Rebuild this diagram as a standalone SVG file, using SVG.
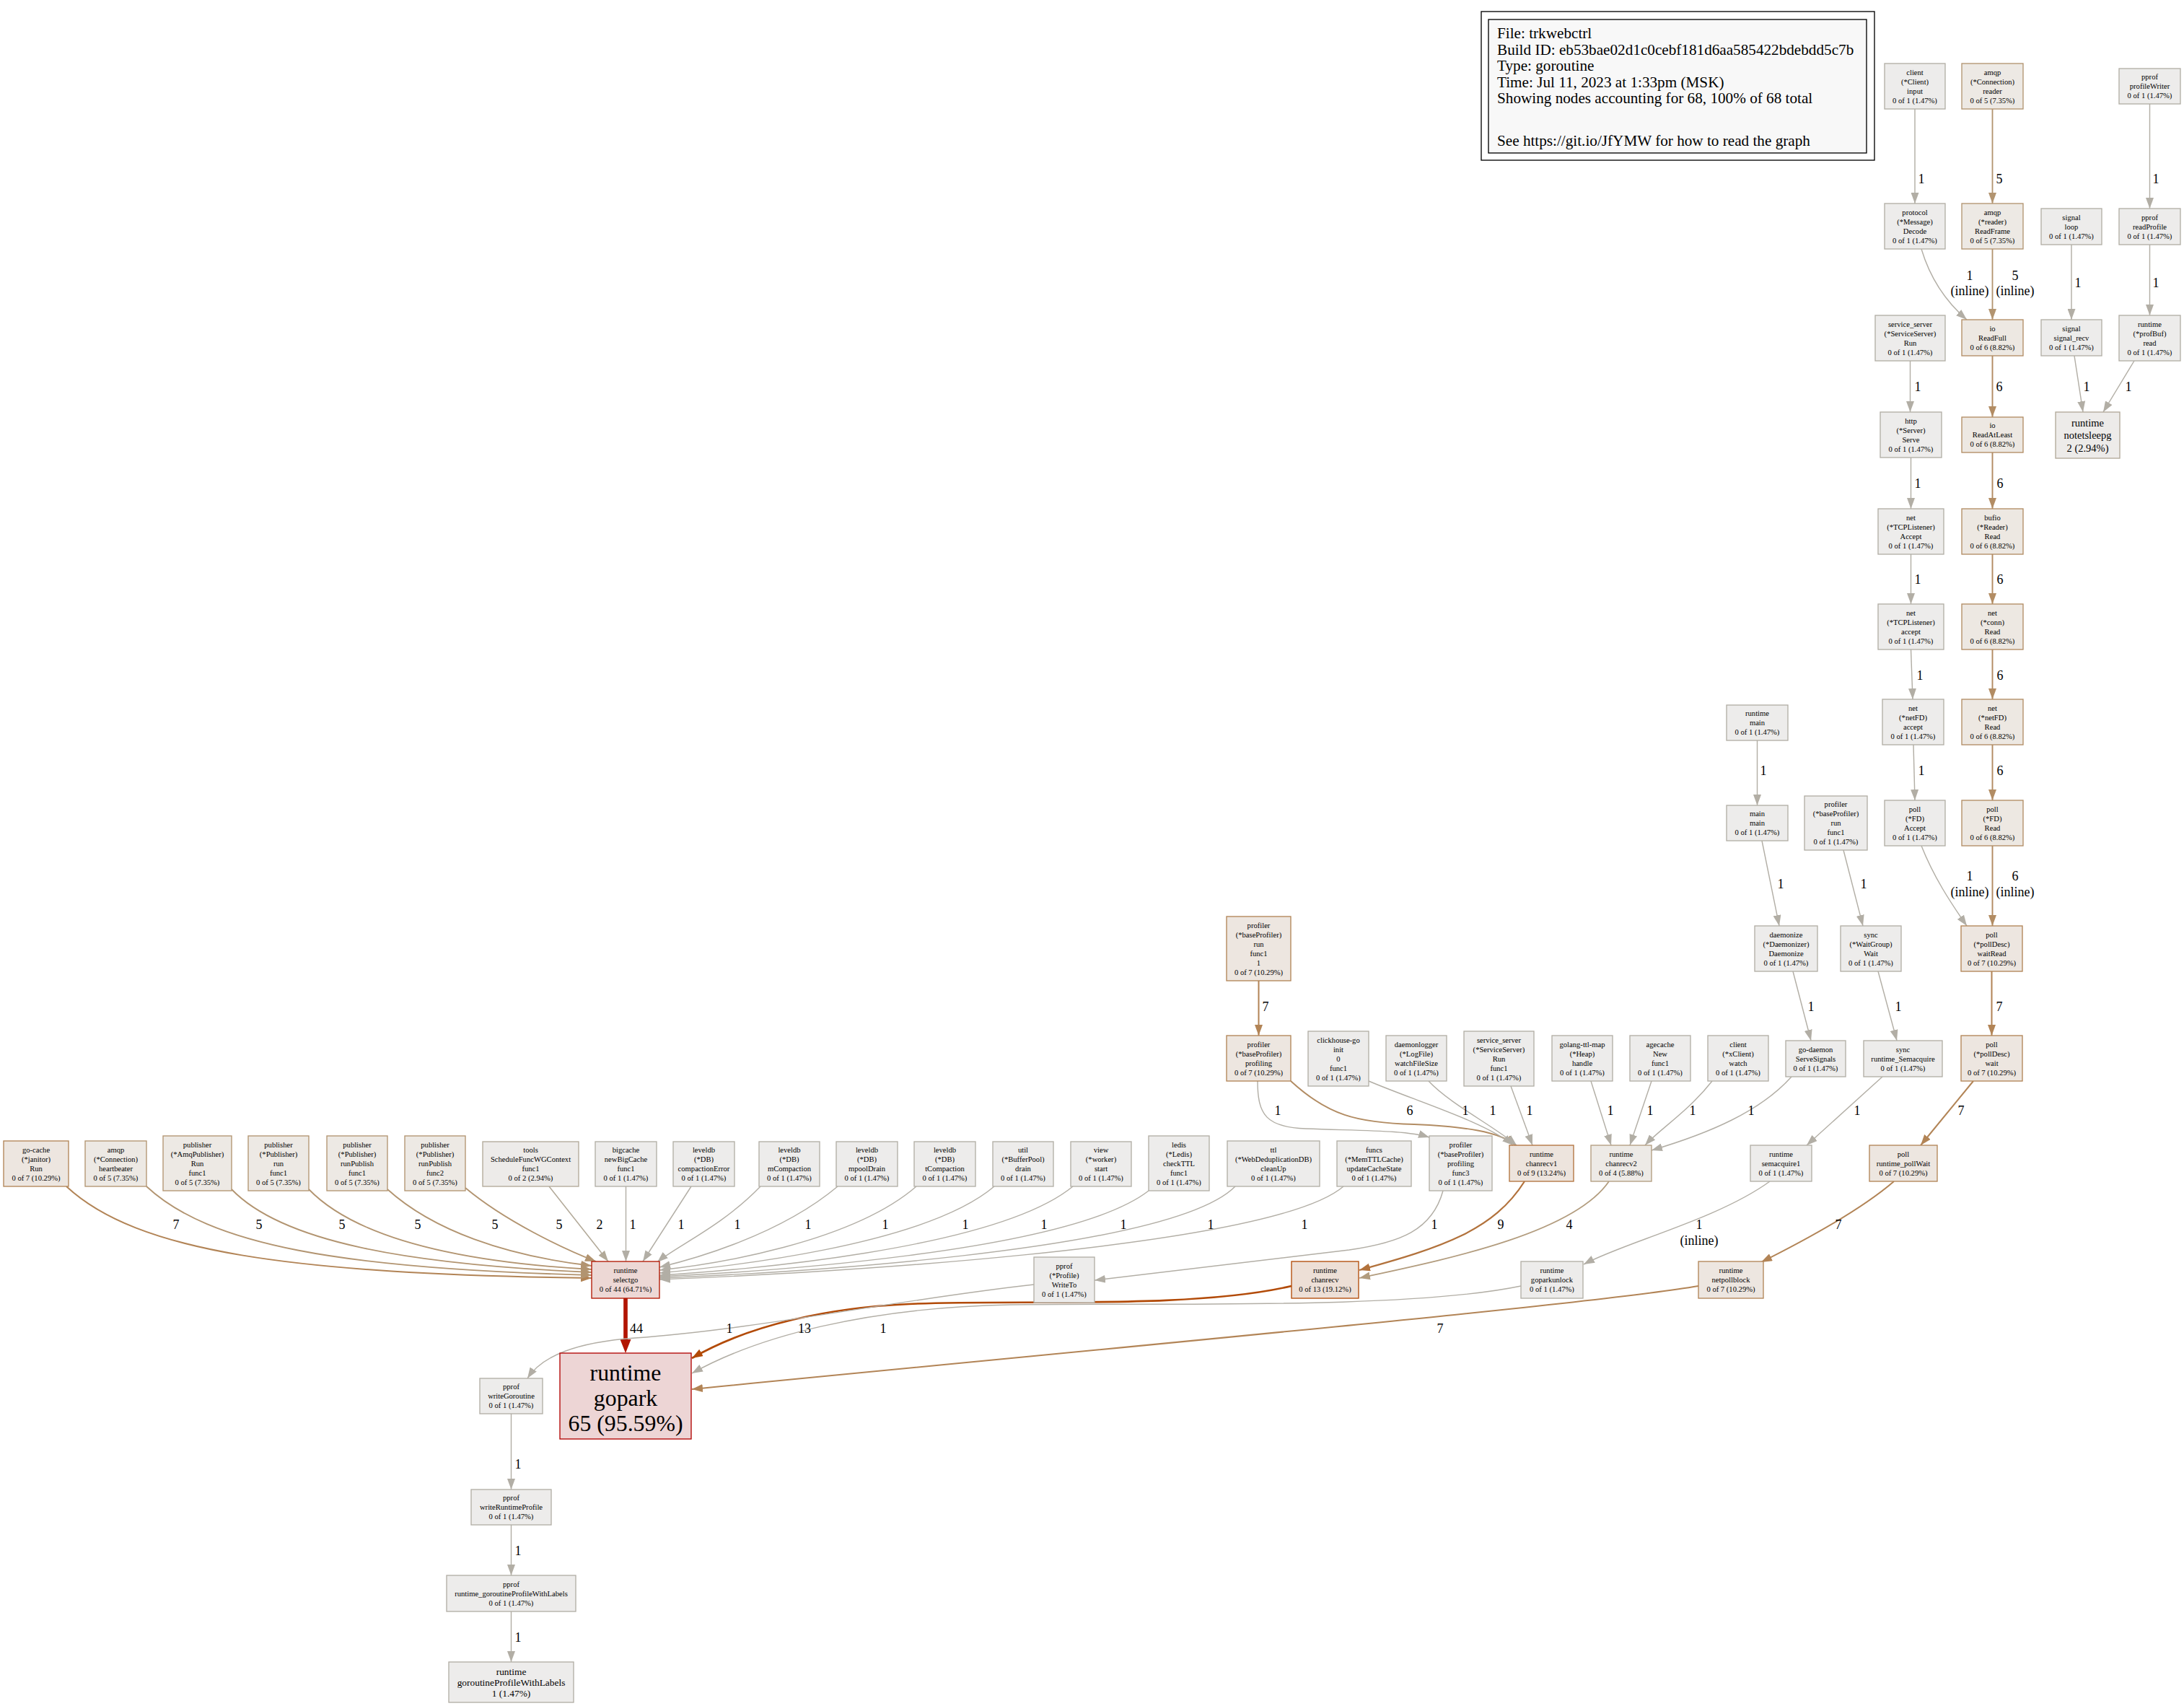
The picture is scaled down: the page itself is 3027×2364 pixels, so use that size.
<svg xmlns="http://www.w3.org/2000/svg" width="3027" height="2364" viewBox="0 0 3027 2364">
<style>
.n rect{stroke-width:1.33}
.n text{font-family:"Liberation Serif","Times New Roman",serif;font-size:10.6px;text-anchor:middle;fill:#000}
.w1 rect{fill:#edeceb;stroke:#b2aea5}
.w2 rect{fill:#edebe9;stroke:#b2a998}
.w4 rect{fill:#edeae6;stroke:#b29c7e}
.w5 rect{fill:#ede9e4;stroke:#b29470}
.w6 rect{fill:#ede8e2;stroke:#b28c63}
.w7 rect{fill:#ede6e0;stroke:#b28456}
.w9 rect{fill:#ede4dd;stroke:#b2723c}
.w13 rect{fill:#eddfd6;stroke:#b24a07}
.w44 rect{fill:#edd8d5;stroke:#b21500}
.w65 rect{fill:#edd5d5;stroke:#b20200}
#edges path{fill:none}
.c1{stroke:#b2aea5;stroke-width:1.43;marker-end:url(#a1)}
.c2{stroke:#b2a998;stroke-width:1.53;marker-end:url(#a2)}
.c4{stroke:#b29c7e;stroke-width:1.72;marker-end:url(#a4)}
.c5{stroke:#b29470;stroke-width:1.82;marker-end:url(#a5)}
.c6{stroke:#b28c63;stroke-width:1.92;marker-end:url(#a6)}
.c7{stroke:#b28456;stroke-width:2.02;marker-end:url(#a7)}
.c9{stroke:#b2723c;stroke-width:2.21;marker-end:url(#a9)}
.c13{stroke:#b24a07;stroke-width:2.61;marker-end:url(#a13)}
.c44{stroke:#b21500;stroke-width:5.65;marker-end:url(#a44)}
.l{font-family:"Liberation Serif","Times New Roman",serif;font-size:18px;text-anchor:middle;fill:#000}
.lg{font-family:"Liberation Serif","Times New Roman",serif;font-size:21.2px;fill:#000}
</style>
<defs>
<marker id="a1" markerUnits="userSpaceOnUse" markerWidth="15" markerHeight="11" viewBox="0 0 15 11" refX="15" refY="5.5" orient="auto"><path d="M0,0L15,5.5L0,11z" fill="#b2aea5"/></marker>
<marker id="a2" markerUnits="userSpaceOnUse" markerWidth="15" markerHeight="11" viewBox="0 0 15 11" refX="15" refY="5.5" orient="auto"><path d="M0,0L15,5.5L0,11z" fill="#b2a998"/></marker>
<marker id="a4" markerUnits="userSpaceOnUse" markerWidth="15" markerHeight="11" viewBox="0 0 15 11" refX="15" refY="5.5" orient="auto"><path d="M0,0L15,5.5L0,11z" fill="#b29c7e"/></marker>
<marker id="a5" markerUnits="userSpaceOnUse" markerWidth="15" markerHeight="11" viewBox="0 0 15 11" refX="15" refY="5.5" orient="auto"><path d="M0,0L15,5.5L0,11z" fill="#b29470"/></marker>
<marker id="a6" markerUnits="userSpaceOnUse" markerWidth="15" markerHeight="11" viewBox="0 0 15 11" refX="15" refY="5.5" orient="auto"><path d="M0,0L15,5.5L0,11z" fill="#b28c63"/></marker>
<marker id="a7" markerUnits="userSpaceOnUse" markerWidth="15" markerHeight="11" viewBox="0 0 15 11" refX="15" refY="5.5" orient="auto"><path d="M0,0L15,5.5L0,11z" fill="#b28456"/></marker>
<marker id="a9" markerUnits="userSpaceOnUse" markerWidth="15" markerHeight="11" viewBox="0 0 15 11" refX="15" refY="5.5" orient="auto"><path d="M0,0L15,5.5L0,11z" fill="#b2723c"/></marker>
<marker id="a13" markerUnits="userSpaceOnUse" markerWidth="15" markerHeight="11" viewBox="0 0 15 11" refX="15" refY="5.5" orient="auto"><path d="M0,0L15,5.5L0,11z" fill="#b24a07"/></marker>
<marker id="a44" markerUnits="userSpaceOnUse" markerWidth="19" markerHeight="15" viewBox="0 0 19 15" refX="0" refY="7.5" orient="auto"><path d="M0,0L19,7.5L0,15z" fill="#b21500"/></marker>
</defs>
<rect x="0" y="0" width="3027" height="2364" fill="#fff"/>

<g id="legend">
<rect x="2053" y="16" width="545" height="206" fill="#fff" stroke="#000" stroke-width="1.33"/>
<rect x="2063" y="27" width="524" height="185" fill="#f8f8f8" stroke="#000" stroke-width="1.33"/>
<text class="lg" x="2075" y="53.2">File: trkwebctrl</text>
<text class="lg" x="2075" y="75.7">Build ID: eb53bae02d1c0cebf181d6aa585422bdebdd5c7b</text>
<text class="lg" x="2075" y="98.2">Type: goroutine</text>
<text class="lg" x="2075" y="120.7">Time: Jul 11, 2023 at 1:33pm (MSK)</text>
<text class="lg" x="2075" y="143.2">Showing nodes accounting for 68, 100% of 68 total</text>
<text class="lg" x="2075" y="201.5">See https://git.io/JfYMW for how to read the graph</text>
</g>

<g id="edges">
<path class="c1" d="M2654,151L2654,282"/>
<path class="c5" d="M2761.5,151L2761.5,282"/>
<path class="c1" d="M2979.5,144L2979.5,289"/>
<path class="c1" d="M2663,345C2675,385 2697,418 2726,443"/>
<path class="c5" d="M2761.5,345L2761.5,443"/>
<path class="c1" d="M2871,339L2871,443"/>
<path class="c1" d="M2979.5,339L2979.5,437"/>
<path class="c1" d="M2647.5,500L2647.5,571"/>
<path class="c6" d="M2761.5,493L2761.5,578"/>
<path class="c1" d="M2875,493L2887,571"/>
<path class="c1" d="M2958,500L2915,571"/>
<path class="c1" d="M2648.5,634L2648.5,705"/>
<path class="c6" d="M2761.5,627L2761.5,705"/>
<path class="c1" d="M2648.5,768L2648.5,837"/>
<path class="c6" d="M2761.5,768L2761.5,837"/>
<path class="c1" d="M2648.5,900L2651,969"/>
<path class="c6" d="M2761.5,900L2761.5,969"/>
<path class="c1" d="M2652,1032L2654,1109"/>
<path class="c6" d="M2761.5,1032L2761.5,1109"/>
<path class="c1" d="M2435.5,1026L2435.5,1116"/>
<path class="c1" d="M2442,1165L2466,1283"/>
<path class="c1" d="M2555,1178L2582,1283"/>
<path class="c1" d="M2663,1172C2680,1215 2703,1250 2726,1283"/>
<path class="c6" d="M2761.5,1172L2761.5,1283"/>
<path class="c7" d="M2760.5,1346L2760.5,1435"/>
<path class="c1" d="M2485,1346L2510,1442"/>
<path class="c1" d="M2603,1346L2629,1442"/>
<path class="c7" d="M1744.5,1359L1744.5,1435"/>
<path class="c7" d="M2735,1498L2662,1587"/>
<path class="c1" d="M1743,1498C1743,1545 1755,1562 1810,1564C1890,1567 1950,1566 1981,1576"/>
<path class="c6" d="M1789,1498C1840,1545 1880,1556 1960,1558C2030,1561 2078,1568 2101,1587"/>
<path class="c1" d="M1897,1498C1960,1525 2060,1555 2097,1587"/>
<path class="c1" d="M1980,1498C2010,1530 2070,1560 2102,1587"/>
<path class="c1" d="M2094,1505L2124,1587"/>
<path class="c1" d="M2205,1498L2233,1587"/>
<path class="c1" d="M2289,1498L2259,1587"/>
<path class="c1" d="M2373,1498C2340,1540 2300,1565 2280,1587"/>
<path class="c1" d="M2483,1492C2440,1540 2370,1570 2289,1594"/>
<path class="c1" d="M2609,1492L2504,1587"/>
<path class="c7" d="M92,1644C190,1735 400,1765 820,1771"/>
<path class="c5" d="M203,1644C290,1725 470,1758 820,1767"/>
<path class="c5" d="M321,1648C390,1720 560,1752 820,1763"/>
<path class="c5" d="M428,1648C490,1712 620,1748 820,1759"/>
<path class="c5" d="M537,1648C600,1705 700,1740 820,1754"/>
<path class="c5" d="M645,1646C700,1692 780,1730 826,1748"/>
<path class="c2" d="M761,1644L843,1748"/>
<path class="c1" d="M867.5,1644L867.5,1748"/>
<path class="c1" d="M958,1644L891,1748"/>
<path class="c1" d="M1054,1644C1000,1700 935,1728 911,1749"/>
<path class="c1" d="M1161,1644C1080,1712 960,1745 914,1756"/>
<path class="c1" d="M1270,1644C1180,1722 990,1752 914,1760"/>
<path class="c1" d="M1378,1644C1280,1727 1000,1756 914,1764"/>
<path class="c1" d="M1487,1644C1380,1732 1020,1761 914,1767"/>
<path class="c1" d="M1592,1650C1480,1737 1040,1763 914,1769"/>
<path class="c1" d="M1712,1644C1620,1737 1060,1765 914,1771"/>
<path class="c1" d="M1862,1644C1760,1732 1100,1766 914,1773"/>
<path class="c1" d="M2000,1650C1985,1705 1940,1722 1870,1732L1517,1774"/>
<path class="c9" d="M2113,1637C2070,1705 2000,1728 1884,1760"/>
<path class="c4" d="M2230,1637C2180,1710 2000,1746 1884,1771"/>
<path class="c1" d="M2453,1637C2380,1690 2250,1722 2195,1752"/>
<path class="c7" d="M2625,1637C2575,1680 2495,1722 2441,1749"/>
<path class="c44" d="M867,1799L867,1856"/>
<path class="c13" d="M1790,1782C1650,1815 1400,1800 1260,1807C1150,1812 1040,1835 959,1882"/>
<path class="c1" d="M2108,1782C1950,1815 1600,1805 1400,1808C1200,1812 1050,1852 959,1903"/>
<path class="c7" d="M2354,1782C2200,1808 1600,1862 959,1925"/>
<path class="c1" d="M1433,1780C1250,1800 1050,1842 880,1854C800,1860 752,1878 731,1910"/>
<path class="c1" d="M708.5,1959L708.5,2064"/>
<path class="c1" d="M708.5,2113L708.5,2183"/>
<path class="c1" d="M708.5,2233L708.5,2303"/>
</g>

<g id="edge-labels">
<text class="l" x="2663" y="254">1</text>
<text class="l" x="2771" y="254">5</text>
<text class="l" x="2988" y="254">1</text>
<text class="l" x="2730" y="388">1</text><text class="l" x="2730" y="409">(inline)</text>
<text class="l" x="2793" y="388">5</text><text class="l" x="2793" y="409">(inline)</text>
<text class="l" x="2880" y="398">1</text>
<text class="l" x="2988" y="398">1</text>
<text class="l" x="2658" y="542">1</text>
<text class="l" x="2771" y="542">6</text>
<text class="l" x="2892" y="542">1</text>
<text class="l" x="2950" y="542">1</text>
<text class="l" x="2658" y="676">1</text>
<text class="l" x="2772" y="676">6</text>
<text class="l" x="2658" y="809">1</text>
<text class="l" x="2772" y="809">6</text>
<text class="l" x="2661" y="942">1</text>
<text class="l" x="2772" y="942">6</text>
<text class="l" x="2663" y="1074">1</text>
<text class="l" x="2772" y="1074">6</text>
<text class="l" x="2444" y="1074">1</text>
<text class="l" x="2468" y="1231">1</text>
<text class="l" x="2583" y="1231">1</text>
<text class="l" x="2730" y="1220">1</text><text class="l" x="2730" y="1242">(inline)</text>
<text class="l" x="2793" y="1220">6</text><text class="l" x="2793" y="1242">(inline)</text>
<text class="l" x="2771" y="1401">7</text>
<text class="l" x="2510" y="1401">1</text>
<text class="l" x="2631" y="1401">1</text>
<text class="l" x="1754" y="1401">7</text>
<text class="l" x="2718" y="1545">7</text>
<text class="l" x="1771" y="1545">1</text>
<text class="l" x="1954" y="1545">6</text>
<text class="l" x="2031" y="1545">1</text>
<text class="l" x="2069" y="1545">1</text>
<text class="l" x="2120" y="1545">1</text>
<text class="l" x="2232" y="1545">1</text>
<text class="l" x="2287" y="1545">1</text>
<text class="l" x="2346" y="1545">1</text>
<text class="l" x="2427" y="1545">1</text>
<text class="l" x="2574" y="1545">1</text>
<text class="l" x="244" y="1703">7</text>
<text class="l" x="359" y="1703">5</text>
<text class="l" x="474" y="1703">5</text>
<text class="l" x="579" y="1703">5</text>
<text class="l" x="686" y="1703">5</text>
<text class="l" x="775" y="1703">5</text>
<text class="l" x="831" y="1703">2</text>
<text class="l" x="877" y="1703">1</text>
<text class="l" x="944" y="1703">1</text>
<text class="l" x="1022" y="1703">1</text>
<text class="l" x="1120" y="1703">1</text>
<text class="l" x="1227" y="1703">1</text>
<text class="l" x="1338" y="1703">1</text>
<text class="l" x="1447" y="1703">1</text>
<text class="l" x="1557" y="1703">1</text>
<text class="l" x="1678" y="1703">1</text>
<text class="l" x="1808" y="1703">1</text>
<text class="l" x="1988" y="1703">1</text>
<text class="l" x="2080" y="1703">9</text>
<text class="l" x="2175" y="1703">4</text>
<text class="l" x="2355" y="1703">1</text><text class="l" x="2355" y="1725">(inline)</text>
<text class="l" x="2548" y="1703">7</text>
<text class="l" x="882" y="1847">44</text>
<text class="l" x="1011" y="1847">1</text>
<text class="l" x="1115" y="1847">13</text>
<text class="l" x="1224" y="1847">1</text>
<text class="l" x="1996" y="1847">7</text>
<text class="l" x="718" y="2035">1</text>
<text class="l" x="718" y="2155">1</text>
<text class="l" x="718" y="2275">1</text>
</g>

<g id="nodes">
<g id="n01" class="n w1"><rect x="2612" y="88" width="84" height="63"/><text x="2654" y="103.9"><tspan x="2654">client</tspan><tspan x="2654" dy="12.9">(*Client)</tspan><tspan x="2654" dy="12.9">input</tspan><tspan x="2654" dy="12.9">0 of 1 (1.47%)</tspan></text></g>
<g id="n02" class="n w5"><rect x="2719" y="88" width="85" height="63"/><text x="2761.5" y="103.9"><tspan x="2761.5">amqp</tspan><tspan x="2761.5" dy="12.9">(*Connection)</tspan><tspan x="2761.5" dy="12.9">reader</tspan><tspan x="2761.5" dy="12.9">0 of 5 (7.35%)</tspan></text></g>
<g id="n03" class="n w1"><rect x="2937" y="95" width="85" height="49"/><text x="2979.5" y="110.3"><tspan x="2979.5">pprof</tspan><tspan x="2979.5" dy="12.9">profileWriter</tspan><tspan x="2979.5" dy="12.9">0 of 1 (1.47%)</tspan></text></g>
<g id="n04" class="n w1"><rect x="2612" y="282" width="84" height="63"/><text x="2654" y="297.9"><tspan x="2654">protocol</tspan><tspan x="2654" dy="12.9">(*Message)</tspan><tspan x="2654" dy="12.9">Decode</tspan><tspan x="2654" dy="12.9">0 of 1 (1.47%)</tspan></text></g>
<g id="n05" class="n w5"><rect x="2719" y="282" width="85" height="63"/><text x="2761.5" y="297.9"><tspan x="2761.5">amqp</tspan><tspan x="2761.5" dy="12.9">(*reader)</tspan><tspan x="2761.5" dy="12.9">ReadFrame</tspan><tspan x="2761.5" dy="12.9">0 of 5 (7.35%)</tspan></text></g>
<g id="n06" class="n w1"><rect x="2829" y="289" width="84" height="50"/><text x="2871" y="304.8"><tspan x="2871">signal</tspan><tspan x="2871" dy="12.9">loop</tspan><tspan x="2871" dy="12.9">0 of 1 (1.47%)</tspan></text></g>
<g id="n07" class="n w1"><rect x="2937" y="289" width="85" height="50"/><text x="2979.5" y="304.8"><tspan x="2979.5">pprof</tspan><tspan x="2979.5" dy="12.9">readProfile</tspan><tspan x="2979.5" dy="12.9">0 of 1 (1.47%)</tspan></text></g>
<g id="n08" class="n w1"><rect x="2599" y="437" width="97" height="63"/><text x="2647.5" y="452.9"><tspan x="2647.5">service_server</tspan><tspan x="2647.5" dy="12.9">(*ServiceServer)</tspan><tspan x="2647.5" dy="12.9">Run</tspan><tspan x="2647.5" dy="12.9">0 of 1 (1.47%)</tspan></text></g>
<g id="n09" class="n w6"><rect x="2719" y="443" width="85" height="50"/><text x="2761.5" y="458.8"><tspan x="2761.5">io</tspan><tspan x="2761.5" dy="12.9">ReadFull</tspan><tspan x="2761.5" dy="12.9">0 of 6 (8.82%)</tspan></text></g>
<g id="n10" class="n w1"><rect x="2829" y="443" width="84" height="50"/><text x="2871" y="458.8"><tspan x="2871">signal</tspan><tspan x="2871" dy="12.9">signal_recv</tspan><tspan x="2871" dy="12.9">0 of 1 (1.47%)</tspan></text></g>
<g id="n11" class="n w1"><rect x="2937" y="437" width="85" height="63"/><text x="2979.5" y="452.9"><tspan x="2979.5">runtime</tspan><tspan x="2979.5" dy="12.9">(*profBuf)</tspan><tspan x="2979.5" dy="12.9">read</tspan><tspan x="2979.5" dy="12.9">0 of 1 (1.47%)</tspan></text></g>
<g id="n12" class="n w1"><rect x="2606" y="571" width="85" height="63"/><text x="2648.5" y="586.9"><tspan x="2648.5">http</tspan><tspan x="2648.5" dy="12.9">(*Server)</tspan><tspan x="2648.5" dy="12.9">Serve</tspan><tspan x="2648.5" dy="12.9">0 of 1 (1.47%)</tspan></text></g>
<g id="n13" class="n w6"><rect x="2719" y="578" width="85" height="49"/><text x="2761.5" y="593.3"><tspan x="2761.5">io</tspan><tspan x="2761.5" dy="12.9">ReadAtLeast</tspan><tspan x="2761.5" dy="12.9">0 of 6 (8.82%)</tspan></text></g>
<g id="n14" class="n w2"><rect x="2849" y="571" width="89" height="64"/><text x="2893.5" y="590.5" style="font-size:14.5px"><tspan x="2893.5">runtime</tspan><tspan x="2893.5" dy="17.5">notetsleepg</tspan><tspan x="2893.5" dy="17.5">2 (2.94%)</tspan></text></g>
<g id="n15" class="n w1"><rect x="2603" y="705" width="91" height="63"/><text x="2648.5" y="720.9"><tspan x="2648.5">net</tspan><tspan x="2648.5" dy="12.9">(*TCPListener)</tspan><tspan x="2648.5" dy="12.9">Accept</tspan><tspan x="2648.5" dy="12.9">0 of 1 (1.47%)</tspan></text></g>
<g id="n16" class="n w6"><rect x="2719" y="705" width="85" height="63"/><text x="2761.5" y="720.9"><tspan x="2761.5">bufio</tspan><tspan x="2761.5" dy="12.9">(*Reader)</tspan><tspan x="2761.5" dy="12.9">Read</tspan><tspan x="2761.5" dy="12.9">0 of 6 (8.82%)</tspan></text></g>
<g id="n17" class="n w1"><rect x="2603" y="837" width="91" height="63"/><text x="2648.5" y="852.9"><tspan x="2648.5">net</tspan><tspan x="2648.5" dy="12.9">(*TCPListener)</tspan><tspan x="2648.5" dy="12.9">accept</tspan><tspan x="2648.5" dy="12.9">0 of 1 (1.47%)</tspan></text></g>
<g id="n18" class="n w6"><rect x="2719" y="837" width="85" height="63"/><text x="2761.5" y="852.9"><tspan x="2761.5">net</tspan><tspan x="2761.5" dy="12.9">(*conn)</tspan><tspan x="2761.5" dy="12.9">Read</tspan><tspan x="2761.5" dy="12.9">0 of 6 (8.82%)</tspan></text></g>
<g id="n19" class="n w1"><rect x="2609" y="969" width="85" height="63"/><text x="2651.5" y="984.9"><tspan x="2651.5">net</tspan><tspan x="2651.5" dy="12.9">(*netFD)</tspan><tspan x="2651.5" dy="12.9">accept</tspan><tspan x="2651.5" dy="12.9">0 of 1 (1.47%)</tspan></text></g>
<g id="n20" class="n w6"><rect x="2719" y="969" width="85" height="63"/><text x="2761.5" y="984.9"><tspan x="2761.5">net</tspan><tspan x="2761.5" dy="12.9">(*netFD)</tspan><tspan x="2761.5" dy="12.9">Read</tspan><tspan x="2761.5" dy="12.9">0 of 6 (8.82%)</tspan></text></g>
<g id="n21" class="n w1"><rect x="2393" y="977" width="85" height="49"/><text x="2435.5" y="992.3"><tspan x="2435.5">runtime</tspan><tspan x="2435.5" dy="12.9">main</tspan><tspan x="2435.5" dy="12.9">0 of 1 (1.47%)</tspan></text></g>
<g id="n22" class="n w1"><rect x="2393" y="1116" width="85" height="49"/><text x="2435.5" y="1131.3"><tspan x="2435.5">main</tspan><tspan x="2435.5" dy="12.9">main</tspan><tspan x="2435.5" dy="12.9">0 of 1 (1.47%)</tspan></text></g>
<g id="n23" class="n w1"><rect x="2501" y="1103" width="87" height="75"/><text x="2544.5" y="1118.4"><tspan x="2544.5">profiler</tspan><tspan x="2544.5" dy="12.9">(*baseProfiler)</tspan><tspan x="2544.5" dy="12.9">run</tspan><tspan x="2544.5" dy="12.9">func1</tspan><tspan x="2544.5" dy="12.9">0 of 1 (1.47%)</tspan></text></g>
<g id="n24" class="n w1"><rect x="2612" y="1109" width="84" height="63"/><text x="2654" y="1124.9"><tspan x="2654">poll</tspan><tspan x="2654" dy="12.9">(*FD)</tspan><tspan x="2654" dy="12.9">Accept</tspan><tspan x="2654" dy="12.9">0 of 1 (1.47%)</tspan></text></g>
<g id="n25" class="n w6"><rect x="2719" y="1109" width="85" height="63"/><text x="2761.5" y="1124.9"><tspan x="2761.5">poll</tspan><tspan x="2761.5" dy="12.9">(*FD)</tspan><tspan x="2761.5" dy="12.9">Read</tspan><tspan x="2761.5" dy="12.9">0 of 6 (8.82%)</tspan></text></g>
<g id="n26" class="n w7"><rect x="2718" y="1283" width="85" height="63"/><text x="2760.5" y="1298.9"><tspan x="2760.5">poll</tspan><tspan x="2760.5" dy="12.9">(*pollDesc)</tspan><tspan x="2760.5" dy="12.9">waitRead</tspan><tspan x="2760.5" dy="12.9">0 of 7 (10.29%)</tspan></text></g>
<g id="n27" class="n w1"><rect x="2432" y="1283" width="87" height="63"/><text x="2475.5" y="1298.9"><tspan x="2475.5">daemonize</tspan><tspan x="2475.5" dy="12.9">(*Daemonizer)</tspan><tspan x="2475.5" dy="12.9">Daemonize</tspan><tspan x="2475.5" dy="12.9">0 of 1 (1.47%)</tspan></text></g>
<g id="n28" class="n w1"><rect x="2551" y="1283" width="84" height="63"/><text x="2593" y="1298.9"><tspan x="2593">sync</tspan><tspan x="2593" dy="12.9">(*WaitGroup)</tspan><tspan x="2593" dy="12.9">Wait</tspan><tspan x="2593" dy="12.9">0 of 1 (1.47%)</tspan></text></g>
<g id="n29" class="n w7"><rect x="1700" y="1270" width="89" height="89"/><text x="1744.5" y="1286"><tspan x="1744.5">profiler</tspan><tspan x="1744.5" dy="12.9">(*baseProfiler)</tspan><tspan x="1744.5" dy="12.9">run</tspan><tspan x="1744.5" dy="12.9">func1</tspan><tspan x="1744.5" dy="12.9">1</tspan><tspan x="1744.5" dy="12.9">0 of 7 (10.29%)</tspan></text></g>
<g id="n30" class="n w7"><rect x="1700" y="1435" width="89" height="63"/><text x="1744.5" y="1450.9"><tspan x="1744.5">profiler</tspan><tspan x="1744.5" dy="12.9">(*baseProfiler)</tspan><tspan x="1744.5" dy="12.9">profiling</tspan><tspan x="1744.5" dy="12.9">0 of 7 (10.29%)</tspan></text></g>
<g id="n31" class="n w1"><rect x="1813" y="1429" width="84" height="76"/><text x="1855" y="1444.9"><tspan x="1855">clickhouse-go</tspan><tspan x="1855" dy="12.9">init</tspan><tspan x="1855" dy="12.9">0</tspan><tspan x="1855" dy="12.9">func1</tspan><tspan x="1855" dy="12.9">0 of 1 (1.47%)</tspan></text></g>
<g id="n32" class="n w1"><rect x="1921" y="1435" width="84" height="63"/><text x="1963" y="1450.9"><tspan x="1963">daemonlogger</tspan><tspan x="1963" dy="12.9">(*LogFile)</tspan><tspan x="1963" dy="12.9">watchFileSize</tspan><tspan x="1963" dy="12.9">0 of 1 (1.47%)</tspan></text></g>
<g id="n33" class="n w1"><rect x="2029" y="1429" width="97" height="76"/><text x="2077.5" y="1444.9"><tspan x="2077.5">service_server</tspan><tspan x="2077.5" dy="12.9">(*ServiceServer)</tspan><tspan x="2077.5" dy="12.9">Run</tspan><tspan x="2077.5" dy="12.9">func1</tspan><tspan x="2077.5" dy="12.9">0 of 1 (1.47%)</tspan></text></g>
<g id="n34" class="n w1"><rect x="2151" y="1435" width="84" height="63"/><text x="2193" y="1450.9"><tspan x="2193">golang-ttl-map</tspan><tspan x="2193" dy="12.9">(*Heap)</tspan><tspan x="2193" dy="12.9">handle</tspan><tspan x="2193" dy="12.9">0 of 1 (1.47%)</tspan></text></g>
<g id="n35" class="n w1"><rect x="2259" y="1435" width="84" height="63"/><text x="2301" y="1450.9"><tspan x="2301">agecache</tspan><tspan x="2301" dy="12.9">New</tspan><tspan x="2301" dy="12.9">func1</tspan><tspan x="2301" dy="12.9">0 of 1 (1.47%)</tspan></text></g>
<g id="n36" class="n w1"><rect x="2367" y="1435" width="84" height="63"/><text x="2409" y="1450.9"><tspan x="2409">client</tspan><tspan x="2409" dy="12.9">(*xClient)</tspan><tspan x="2409" dy="12.9">watch</tspan><tspan x="2409" dy="12.9">0 of 1 (1.47%)</tspan></text></g>
<g id="n37" class="n w1"><rect x="2475" y="1442" width="83" height="50"/><text x="2516.5" y="1457.8"><tspan x="2516.5">go-daemon</tspan><tspan x="2516.5" dy="12.9">ServeSignals</tspan><tspan x="2516.5" dy="12.9">0 of 1 (1.47%)</tspan></text></g>
<g id="n38" class="n w1"><rect x="2583" y="1442" width="109" height="50"/><text x="2637.5" y="1457.8"><tspan x="2637.5">sync</tspan><tspan x="2637.5" dy="12.9">runtime_Semacquire</tspan><tspan x="2637.5" dy="12.9">0 of 1 (1.47%)</tspan></text></g>
<g id="n39" class="n w7"><rect x="2718" y="1435" width="85" height="63"/><text x="2760.5" y="1450.9"><tspan x="2760.5">poll</tspan><tspan x="2760.5" dy="12.9">(*pollDesc)</tspan><tspan x="2760.5" dy="12.9">wait</tspan><tspan x="2760.5" dy="12.9">0 of 7 (10.29%)</tspan></text></g>
<g id="n40" class="n w7"><rect x="5" y="1581" width="90" height="63"/><text x="50" y="1596.9"><tspan x="50">go-cache</tspan><tspan x="50" dy="12.9">(*janitor)</tspan><tspan x="50" dy="12.9">Run</tspan><tspan x="50" dy="12.9">0 of 7 (10.29%)</tspan></text></g>
<g id="n41" class="n w5"><rect x="118" y="1581" width="85" height="63"/><text x="160.5" y="1596.9"><tspan x="160.5">amqp</tspan><tspan x="160.5" dy="12.9">(*Connection)</tspan><tspan x="160.5" dy="12.9">heartbeater</tspan><tspan x="160.5" dy="12.9">0 of 5 (7.35%)</tspan></text></g>
<g id="n42" class="n w5"><rect x="226" y="1574" width="95" height="76"/><text x="273.5" y="1589.9"><tspan x="273.5">publisher</tspan><tspan x="273.5" dy="12.9">(*AmqPublisher)</tspan><tspan x="273.5" dy="12.9">Run</tspan><tspan x="273.5" dy="12.9">func1</tspan><tspan x="273.5" dy="12.9">0 of 5 (7.35%)</tspan></text></g>
<g id="n43" class="n w5"><rect x="344" y="1574" width="84" height="76"/><text x="386" y="1589.9"><tspan x="386">publisher</tspan><tspan x="386" dy="12.9">(*Publisher)</tspan><tspan x="386" dy="12.9">run</tspan><tspan x="386" dy="12.9">func1</tspan><tspan x="386" dy="12.9">0 of 5 (7.35%)</tspan></text></g>
<g id="n44" class="n w5"><rect x="453" y="1574" width="84" height="76"/><text x="495" y="1589.9"><tspan x="495">publisher</tspan><tspan x="495" dy="12.9">(*Publisher)</tspan><tspan x="495" dy="12.9">runPublish</tspan><tspan x="495" dy="12.9">func1</tspan><tspan x="495" dy="12.9">0 of 5 (7.35%)</tspan></text></g>
<g id="n45" class="n w5"><rect x="561" y="1574" width="84" height="76"/><text x="603" y="1589.9"><tspan x="603">publisher</tspan><tspan x="603" dy="12.9">(*Publisher)</tspan><tspan x="603" dy="12.9">runPublish</tspan><tspan x="603" dy="12.9">func2</tspan><tspan x="603" dy="12.9">0 of 5 (7.35%)</tspan></text></g>
<g id="n46" class="n w2"><rect x="669" y="1582" width="133" height="62"/><text x="735.5" y="1597.4"><tspan x="735.5">tools</tspan><tspan x="735.5" dy="12.9">ScheduleFuncWGContext</tspan><tspan x="735.5" dy="12.9">func1</tspan><tspan x="735.5" dy="12.9">0 of 2 (2.94%)</tspan></text></g>
<g id="n47" class="n w1"><rect x="825" y="1582" width="85" height="62"/><text x="867.5" y="1597.4"><tspan x="867.5">bigcache</tspan><tspan x="867.5" dy="12.9">newBigCache</tspan><tspan x="867.5" dy="12.9">func1</tspan><tspan x="867.5" dy="12.9">0 of 1 (1.47%)</tspan></text></g>
<g id="n48" class="n w1"><rect x="933" y="1582" width="85" height="62"/><text x="975.5" y="1597.4"><tspan x="975.5">leveldb</tspan><tspan x="975.5" dy="12.9">(*DB)</tspan><tspan x="975.5" dy="12.9">compactionError</tspan><tspan x="975.5" dy="12.9">0 of 1 (1.47%)</tspan></text></g>
<g id="n49" class="n w1"><rect x="1052" y="1582" width="84" height="62"/><text x="1094" y="1597.4"><tspan x="1094">leveldb</tspan><tspan x="1094" dy="12.9">(*DB)</tspan><tspan x="1094" dy="12.9">mCompaction</tspan><tspan x="1094" dy="12.9">0 of 1 (1.47%)</tspan></text></g>
<g id="n50" class="n w1"><rect x="1159" y="1582" width="85" height="62"/><text x="1201.5" y="1597.4"><tspan x="1201.5">leveldb</tspan><tspan x="1201.5" dy="12.9">(*DB)</tspan><tspan x="1201.5" dy="12.9">mpoolDrain</tspan><tspan x="1201.5" dy="12.9">0 of 1 (1.47%)</tspan></text></g>
<g id="n51" class="n w1"><rect x="1267" y="1582" width="85" height="62"/><text x="1309.5" y="1597.4"><tspan x="1309.5">leveldb</tspan><tspan x="1309.5" dy="12.9">(*DB)</tspan><tspan x="1309.5" dy="12.9">tCompaction</tspan><tspan x="1309.5" dy="12.9">0 of 1 (1.47%)</tspan></text></g>
<g id="n52" class="n w1"><rect x="1376" y="1582" width="84" height="62"/><text x="1418" y="1597.4"><tspan x="1418">util</tspan><tspan x="1418" dy="12.9">(*BufferPool)</tspan><tspan x="1418" dy="12.9">drain</tspan><tspan x="1418" dy="12.9">0 of 1 (1.47%)</tspan></text></g>
<g id="n53" class="n w1"><rect x="1484" y="1582" width="84" height="62"/><text x="1526" y="1597.4"><tspan x="1526">view</tspan><tspan x="1526" dy="12.9">(*worker)</tspan><tspan x="1526" dy="12.9">start</tspan><tspan x="1526" dy="12.9">0 of 1 (1.47%)</tspan></text></g>
<g id="n54" class="n w1"><rect x="1592" y="1574" width="84" height="76"/><text x="1634" y="1589.9"><tspan x="1634">ledis</tspan><tspan x="1634" dy="12.9">(*Ledis)</tspan><tspan x="1634" dy="12.9">checkTTL</tspan><tspan x="1634" dy="12.9">func1</tspan><tspan x="1634" dy="12.9">0 of 1 (1.47%)</tspan></text></g>
<g id="n55" class="n w1"><rect x="1701" y="1581" width="128" height="63"/><text x="1765" y="1596.9"><tspan x="1765">ttl</tspan><tspan x="1765" dy="12.9">(*WebDeduplicationDB)</tspan><tspan x="1765" dy="12.9">cleanUp</tspan><tspan x="1765" dy="12.9">0 of 1 (1.47%)</tspan></text></g>
<g id="n56" class="n w1"><rect x="1853" y="1581" width="103" height="63"/><text x="1904.5" y="1596.9"><tspan x="1904.5">funcs</tspan><tspan x="1904.5" dy="12.9">(*MemTTLCache)</tspan><tspan x="1904.5" dy="12.9">updateCacheState</tspan><tspan x="1904.5" dy="12.9">0 of 1 (1.47%)</tspan></text></g>
<g id="n57" class="n w1"><rect x="1981" y="1574" width="87" height="76"/><text x="2024.5" y="1589.9"><tspan x="2024.5">profiler</tspan><tspan x="2024.5" dy="12.9">(*baseProfiler)</tspan><tspan x="2024.5" dy="12.9">profiling</tspan><tspan x="2024.5" dy="12.9">func3</tspan><tspan x="2024.5" dy="12.9">0 of 1 (1.47%)</tspan></text></g>
<g id="n58" class="n w9"><rect x="2092" y="1587" width="89" height="50"/><text x="2136.5" y="1602.8"><tspan x="2136.5">runtime</tspan><tspan x="2136.5" dy="12.9">chanrecv1</tspan><tspan x="2136.5" dy="12.9">0 of 9 (13.24%)</tspan></text></g>
<g id="n59" class="n w4"><rect x="2205" y="1587" width="84" height="50"/><text x="2247" y="1602.8"><tspan x="2247">runtime</tspan><tspan x="2247" dy="12.9">chanrecv2</tspan><tspan x="2247" dy="12.9">0 of 4 (5.88%)</tspan></text></g>
<g id="n60" class="n w1"><rect x="2426" y="1587" width="85" height="50"/><text x="2468.5" y="1602.8"><tspan x="2468.5">runtime</tspan><tspan x="2468.5" dy="12.9">semacquire1</tspan><tspan x="2468.5" dy="12.9">0 of 1 (1.47%)</tspan></text></g>
<g id="n61" class="n w7"><rect x="2591" y="1587" width="94" height="50"/><text x="2638" y="1602.8"><tspan x="2638">poll</tspan><tspan x="2638" dy="12.9">runtime_pollWait</tspan><tspan x="2638" dy="12.9">0 of 7 (10.29%)</tspan></text></g>
<g id="n62" class="n w44"><rect x="820" y="1748" width="94" height="51"/><text x="867" y="1764.3"><tspan x="867">runtime</tspan><tspan x="867" dy="12.9">selectgo</tspan><tspan x="867" dy="12.9">0 of 44 (64.71%)</tspan></text></g>
<g id="n63" class="n w1"><rect x="1433" y="1742" width="84" height="63"/><text x="1475" y="1757.9"><tspan x="1475">pprof</tspan><tspan x="1475" dy="12.9">(*Profile)</tspan><tspan x="1475" dy="12.9">WriteTo</tspan><tspan x="1475" dy="12.9">0 of 1 (1.47%)</tspan></text></g>
<g id="n64" class="n w13"><rect x="1790" y="1748" width="93" height="51"/><text x="1836.5" y="1764.3"><tspan x="1836.5">runtime</tspan><tspan x="1836.5" dy="12.9">chanrecv</tspan><tspan x="1836.5" dy="12.9">0 of 13 (19.12%)</tspan></text></g>
<g id="n65" class="n w1"><rect x="2108" y="1748" width="86" height="51"/><text x="2151" y="1764.3"><tspan x="2151">runtime</tspan><tspan x="2151" dy="12.9">goparkunlock</tspan><tspan x="2151" dy="12.9">0 of 1 (1.47%)</tspan></text></g>
<g id="n66" class="n w7"><rect x="2354" y="1748" width="90" height="51"/><text x="2399" y="1764.3"><tspan x="2399">runtime</tspan><tspan x="2399" dy="12.9">netpollblock</tspan><tspan x="2399" dy="12.9">0 of 7 (10.29%)</tspan></text></g>
<g id="n67" class="n w65"><rect x="776" y="1875" width="182" height="119"/><text x="867" y="1912.5" style="font-size:31.8px"><tspan x="867">runtime</tspan><tspan x="867" dy="35.4">gopark</tspan><tspan x="867" dy="35.4">65 (95.59%)</tspan></text></g>
<g id="n68" class="n w1"><rect x="665" y="1910" width="87" height="49"/><text x="708.5" y="1925.3"><tspan x="708.5">pprof</tspan><tspan x="708.5" dy="12.9">writeGoroutine</tspan><tspan x="708.5" dy="12.9">0 of 1 (1.47%)</tspan></text></g>
<g id="n69" class="n w1"><rect x="653" y="2064" width="111" height="49"/><text x="708.5" y="2079.3"><tspan x="708.5">pprof</tspan><tspan x="708.5" dy="12.9">writeRuntimeProfile</tspan><tspan x="708.5" dy="12.9">0 of 1 (1.47%)</tspan></text></g>
<g id="n70" class="n w1"><rect x="619" y="2183" width="179" height="50"/><text x="708.5" y="2198.8"><tspan x="708.5">pprof</tspan><tspan x="708.5" dy="12.9">runtime_goroutineProfileWithLabels</tspan><tspan x="708.5" dy="12.9">0 of 1 (1.47%)</tspan></text></g>
<g id="n71" class="n w1"><rect x="622" y="2303" width="173" height="56"/><text x="708.5" y="2321" style="font-size:13.4px"><tspan x="708.5">runtime</tspan><tspan x="708.5" dy="15.2">goroutineProfileWithLabels</tspan><tspan x="708.5" dy="15.2">1 (1.47%)</tspan></text></g>
</g>
</svg>
